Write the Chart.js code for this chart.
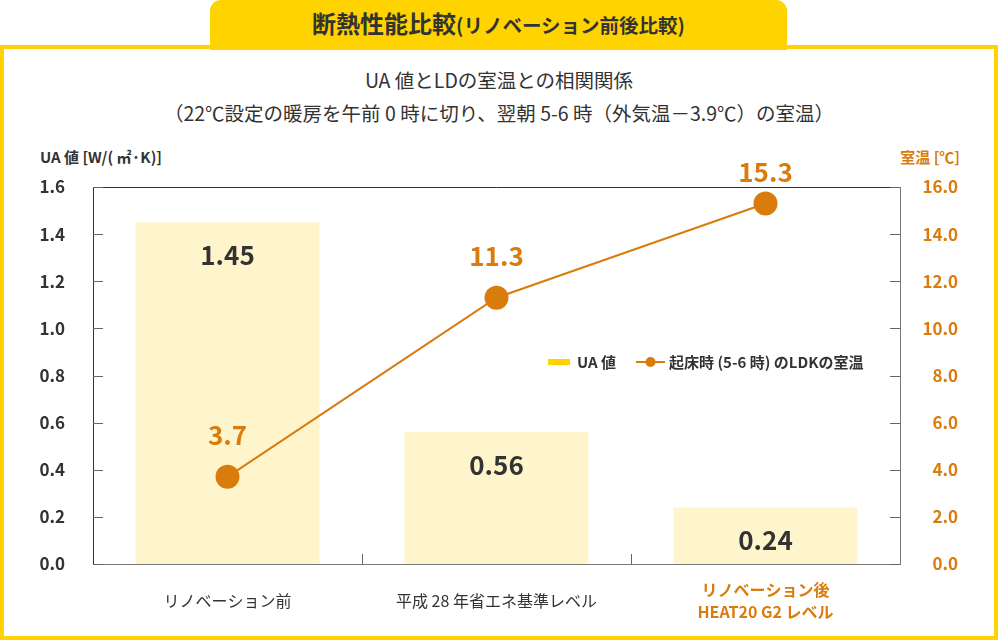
<!DOCTYPE html>
<html lang="ja">
<head>
<meta charset="utf-8">
<script src="https://cdn.jsdelivr.net/npm/chart.js@4"></script>
<style>
  html, body { margin: 0; padding: 0; background: #fff; }
  body { width: 998px; height: 640px; position: relative; overflow: hidden;
         font-family: "Noto Sans CJK JP", "Noto Sans", sans-serif; color: #333; }
  #tab { position: absolute; left: 210px; top: 0; width: 577px; height: 50px;
         background: #FFD300; border-radius: 11px 11px 0 0;
         text-align: center; line-height: 46px; font-weight: bold; white-space: nowrap; }
  #tab .big { font-size: 24px; }
  #tab .small { font-size: 19.5px; }
  #frame { position: absolute; left: 0; top: 45px; width: 998px; height: 595px;
           box-sizing: border-box; border: 4px solid #FFD300; }
  .ttl { position: absolute; left: 0; width: 998px; text-align: center; font-size: 19.5px; color: #333; white-space: nowrap; }
  .axt { position: absolute; top: 146px; font-size: 15px; font-weight: bold; white-space: nowrap; }
  #wrap { position: absolute; left: 0; top: 0; width: 998px; height: 640px; }
</style>
</head>
<body>
<div id="frame"></div>
<div id="tab"><span class="big">断熱性能比較</span><span class="small">(リノベーション前後比較)</span></div>
<div class="ttl" style="top:65px">UA 値とLDの室温との相関関係</div>
<div class="ttl" style="top:98px">（22℃設定の暖房を午前 0 時に切り、翌朝 5-6 時（外気温－3.9℃）の室温）</div>
<div class="axt" style="left:40px;color:#333">UA 値 [W/( ㎡·K)]</div>
<div class="axt" style="right:38px;color:#D97C0B">室温 [℃]</div>
<div id="wrap"><canvas id="c" width="998" height="640"></canvas></div>
<script>
const categories = [["リノベーション前"], ["平成 28 年省エネ基準レベル"], ["リノベーション後", "HEAT20 G2 レベル"]];
const uaValues = [1.45, 0.56, 0.24];
const roomTemps = [3.7, 11.3, 15.3];
const uaLabel = "UA 値";
const tempLabel = "起床時 (5-6 時) のLDKの室温";

const ORANGE = "#D97C0B";
const DARK = "#333333";
const FONT = '"Noto Sans CJK JP", "Noto Sans", sans-serif';

const decorPlugin = {
  id: "decor",
  afterDraw(chart) {
    const ctx = chart.ctx;
    const a = chart.chartArea;
    const yL = chart.scales.y, yR = chart.scales.y1, x = chart.scales.x;
    ctx.save();
    ctx.lineWidth = 1;
    ctx.strokeStyle = "#333";
    ctx.beginPath();
    ctx.moveTo(a.left, a.top + 0.5); ctx.lineTo(a.right, a.top + 0.5);
    ctx.stroke();
    ctx.strokeStyle = "#666";
    ctx.beginPath();
    yL.ticks.forEach(t => {
      const py = Math.round(yL.getPixelForValue(t.value)) + 0.5;
      ctx.moveTo(a.left, py); ctx.lineTo(a.left + 10, py);
    });
    yR.ticks.forEach(t => {
      const py = Math.round(yR.getPixelForValue(t.value)) + 0.5;
      ctx.moveTo(a.right - 10, py); ctx.lineTo(a.right, py);
    });
    for (let i = 1; i < categories.length; i++) {
      const px = Math.round((x.getPixelForValue(i - 1) + x.getPixelForValue(i)) / 2) + 0.5;
      ctx.moveTo(px, a.bottom); ctx.lineTo(px, a.bottom - 10);
    }
    ctx.stroke();

    // legend
    const ds = chart.data.datasets;
    const ly = 362;
    ctx.font = "bold 15px " + FONT;
    ctx.textBaseline = "middle";
    ctx.textAlign = "left";
    ctx.fillStyle = "#FFD300";
    ctx.fillRect(548, ly - 3, 22, 6);
    ctx.fillStyle = DARK;
    ctx.fillText(ds[0].label, 577, ly);
    ctx.strokeStyle = ORANGE;
    ctx.lineWidth = 2;
    ctx.beginPath(); ctx.moveTo(636, ly); ctx.lineTo(665, ly); ctx.stroke();
    ctx.fillStyle = ORANGE;
    ctx.beginPath(); ctx.arc(650.5, ly, 5, 0, Math.PI * 2); ctx.fill();
    ctx.fillStyle = DARK;
    ctx.fillText(ds[1].label, 669, ly);
    ctx.restore();
  },
  afterDatasetsDraw(chart) {
    const ctx = chart.ctx;
    ctx.save();
    ctx.textAlign = "center";
    ctx.textBaseline = "middle";
    ctx.font = "bold 26px " + FONT;
    const mb = chart.getDatasetMeta(0);
    ctx.fillStyle = DARK;
    mb.data.forEach((el, i) => {
      ctx.fillText(uaValues[i].toFixed(2), el.x, el.y + 33);
    });
    const ml = chart.getDatasetMeta(1);
    ctx.fillStyle = ORANGE;
    ml.data.forEach((el, i) => {
      ctx.fillText(roomTemps[i].toFixed(1), el.x, Math.max(el.y - 42, 172));
    });
    ctx.restore();
  }
};

new Chart(document.getElementById("c"), {
  data: {
    labels: categories,
    datasets: [
      {
        type: "bar",
        label: uaLabel,
        data: uaValues,
        yAxisID: "y",
        backgroundColor: "#FFF5CC",
        borderWidth: 0,
        barPercentage: 0.684,
        categoryPercentage: 1.0,
        order: 2
      },
      {
        type: "line",
        label: tempLabel,
        data: roomTemps,
        yAxisID: "y1",
        borderColor: ORANGE,
        backgroundColor: ORANGE,
        borderWidth: 2,
        pointRadius: 12,
        pointHoverRadius: 12,
        pointBackgroundColor: ORANGE,
        pointBorderWidth: 0,
        tension: 0,
        order: 1
      }
    ]
  },
  options: {
    responsive: false,
    animation: false,
    devicePixelRatio: 1,
    layout: { padding: { top: 187, left: 0, right: 40, bottom: 0 } },
    plugins: {
      legend: { display: false },
      title: { display: false },
      tooltip: { enabled: false }
    },
    scales: {
      x: {
        grid: { display: false, drawTicks: false },
        border: { display: true, color: "#777" },
        ticks: {
          padding: 26,
          crossAlign: "center",
          color: (c) => c.index === 2 ? ORANGE : DARK,
          font: (c) => ({ family: FONT, size: 16, weight: c.index === 2 ? "bold" : "normal", lineHeight: 1.4 })
        },
        afterFit(s) { s.height = 76; }
      },
      y: {
        position: "left",
        min: 0, max: 1.6,
        grid: { display: false, drawTicks: false },
        border: { display: true, color: "#333" },
        ticks: {
          stepSize: 0.2,
          padding: 28,
          color: DARK,
          font: { family: FONT, size: 17, weight: "bold" },
          callback: (v) => Number(v).toFixed(1)
        },
        afterFit(s) { s.width = 93; }
      },
      y1: {
        position: "right",
        min: 0, max: 16,
        grid: { display: false, drawTicks: false },
        border: { display: true, color: "#777" },
        ticks: {
          stepSize: 2,
          crossAlign: "far",
          color: ORANGE,
          font: { family: FONT, size: 17, weight: "bold" },
          callback: (v) => Number(v).toFixed(1)
        },
        afterFit(s) { s.width = 58; }
      }
    }
  },
  plugins: [decorPlugin]
});
</script>
</body>
</html>
